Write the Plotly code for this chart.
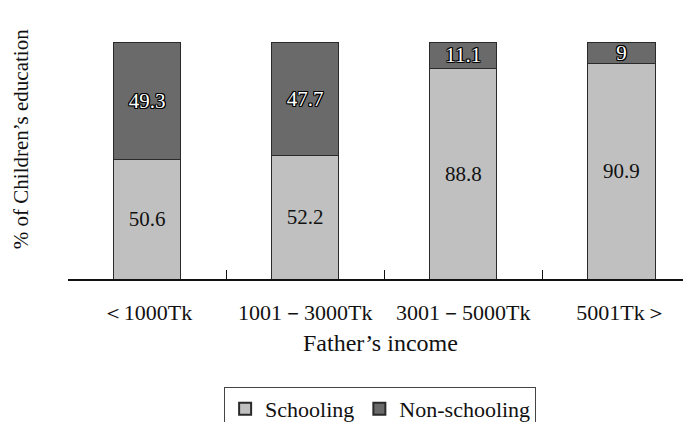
import plotly.graph_objects as go

categories = ["＜1000Tk", "1001－3000Tk", "3001－5000Tk", "5001Tk＞"]
schooling = [50.6, 52.2, 88.8, 90.9]
non_schooling = [49.3, 47.7, 11.1, 9]

FONT = "Liberation Serif, Times New Roman, serif"
outline = ("-1px -1px 0 #000, 1px -1px 0 #000, -1px 1px 0 #000, 1px 1px 0 #000, "
           "0 1px 0 #000, 0 -1px 0 #000, 1px 0 0 #000, -1px 0 0 #000")

fig = go.Figure()
fig.add_trace(go.Bar(
    x=categories, y=schooling, name="Schooling",
    marker=dict(color="#c0c0c0", line=dict(color="#2a2a2a", width=1)),
    width=0.425,
    text=[str(v) for v in schooling], textposition="inside", textangle=0,
    insidetextanchor="middle", constraintext="none",
    textfont=dict(family=FONT, size=21, color="#111"),
))
fig.add_trace(go.Bar(
    x=categories, y=non_schooling, name="Non-schooling",
    marker=dict(color="#6a6a6a", line=dict(color="#2a2a2a", width=1)),
    width=0.425,
    text=[str(v) for v in non_schooling], textposition="inside", textangle=0,
    insidetextanchor="middle", constraintext="none",
    textfont=dict(family=FONT, size=21, color="#ffffff", shadow=outline),
))

fig.update_layout(
    barmode="stack",
    width=691, height=422,
    margin=dict(l=60, r=8, t=34, b=151, autoexpand=False),
    paper_bgcolor="white", plot_bgcolor="white",
    font=dict(family=FONT, size=20, color="#111"),
    showlegend=True,
    legend=dict(
        orientation="h", x=0.501, xanchor="center", y=-0.455, yanchor="top",
        bordercolor="#444", borderwidth=1, font=dict(family=FONT, size=22),
        traceorder="normal", itemwidth=30, itemsizing="constant",
        tracegroupgap=0,
    ),
    xaxis=dict(
        range=[-0.5, 3.44], showline=True, linecolor="#111", linewidth=1.5,
        ticks="inside", tickson="boundaries", ticklen=9, tickcolor="#111",
        tickwidth=1, showgrid=False, zeroline=False,
        tickfont=dict(family=FONT, size=22), ticklabelstandoff=13,
    ),
    yaxis=dict(
        range=[0, 100], visible=False, showgrid=False, zeroline=False,
    ),
    annotations=[
        dict(text="% of Children’s education", xref="paper", yref="paper",
             x=-0.0754, y=0.59, xanchor="center", yanchor="middle",
             textangle=-90, showarrow=False, font=dict(family=FONT, size=21)),
        dict(text="Father’s income", xref="paper", yref="paper",
             x=0.501, y=-0.27, xanchor="center", yanchor="middle",
             showarrow=False, font=dict(family=FONT, size=24)),
    ],
)

fig.write_html("out.html")
